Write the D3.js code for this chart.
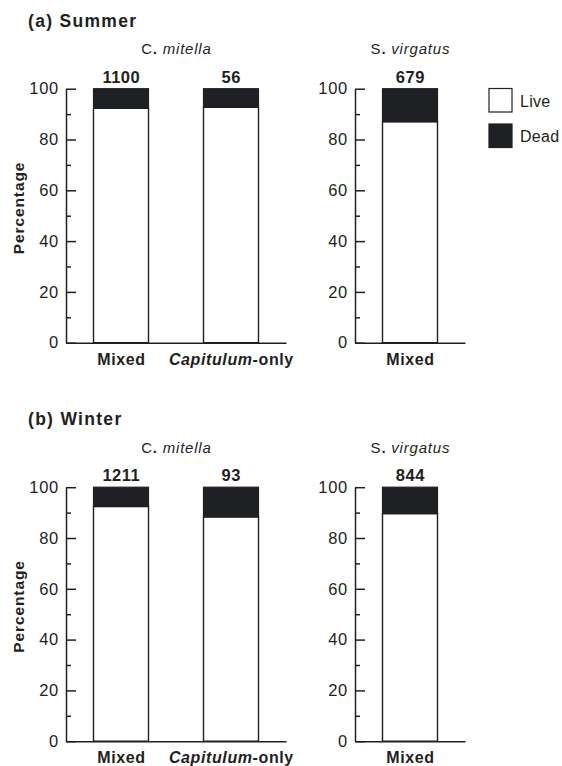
<!DOCTYPE html>
<html>
<head>
<meta charset="utf-8">
<script src="https://cdn.jsdelivr.net/npm/d3@7"></script>
<style>
  body { margin: 0; background: #fff; }
  svg { font-family: "Liberation Sans", Arial, Helvetica, sans-serif; }
</style>
</head>
<body>
<svg width="562" height="766"></svg>
<script>
// data
var groups = ["C. mitella", "C. mitella", "S. virgatus"];
var categories = ["Mixed", "Capitulum-only", "Mixed"];
var seasons = ["(a) Summer", "(b) Winter"];
var summerLive = [92.3, 92.7, 87.0];
var winterLive = [92.4, 88.3, 89.6];
var summerN = [1100, 56, 679];
var winterN = [1211, 93, 844];
var majorTicks = [0, 20, 40, 60, 80, 100];
var minorTicks = [10, 30, 50, 70, 90];
var legendItems = ["Live", "Dead"];

var ink = "#231f20", deadFill = "#1f2023";
var svg = d3.select("svg");

function speciesText(sel, name) {
  // genus initial upright, the dot heavy, the rest italic
  var parts = name.split(". ");
  sel.append("tspan").text(parts[0]);
  sel.append("tspan").attr("font-weight", "bold").text(".");
  sel.append("tspan").attr("font-style", "italic").text(" " + parts[1]);
}

function categoryText(sel, name) {
  if (name.indexOf("-") > 0) {
    var p = name.split("-");
    sel.append("tspan").attr("font-style", "italic").text(p[0]);
    sel.append("tspan").text("-" + p[1]);
  } else {
    sel.text(name);
  }
}

function drawPanel(title, live, counts, top, showLegend) {
  var g = svg.append("g").attr("transform", "translate(0," + top + ")");
  var y = d3.scaleLinear().domain([0, 100]).range([342.7, 88.7]);

  g.append("text").attr("x", 28).attr("y", 26.5)
    .attr("font-size", 17.5).attr("font-weight", "bold").attr("fill", ink)
    .attr("letter-spacing", 1.3)
    .text(title);

  g.append("text")
    .attr("transform", "translate(23.5,208) rotate(-90)")
    .attr("text-anchor", "middle").attr("font-size", 15.5).attr("font-weight", "bold")
    .attr("letter-spacing", 0.9).attr("fill", ink)
    .text("Percentage");

  var blocks = [
    { idx: [0, 1], range: [66, 286] },
    { idx: [2], range: [355, 465] }
  ];

  blocks.forEach(function (b) {
    var x = d3.scaleBand().domain(b.idx).range(b.range)
      .paddingInner(0.5).paddingOuter(0.25);

    // y axis, ticks pointing inward
    var ax = g.append("g").attr("transform", "translate(" + b.range[0] + ",0)");
    ax.call(d3.axisLeft(y).tickValues(majorTicks).tickSizeInner(-10).tickSizeOuter(0).tickPadding(7.3));
    ax.append("g").call(d3.axisLeft(y).tickValues(minorTicks).tickSizeInner(-5).tickSizeOuter(0).tickFormat(""))
      .select(".domain").remove();
    ax.selectAll("line, path").attr("stroke", ink).attr("stroke-width", 1.5);
    ax.selectAll("text").attr("font-size", 16.5).attr("fill", ink)
      .attr("letter-spacing", 0.6)
      .attr("font-family", "Liberation Sans, Arial, sans-serif");

    // bars
    var bars = g.selectAll(null).data(b.idx).enter();
    bars.append("rect")
      .attr("x", function (i) { return x(i); })
      .attr("width", x.bandwidth())
      .attr("y", function (i) { return y(live[i]); })
      .attr("height", function (i) { return y(0) - y(live[i]); })
      .attr("fill", "#fff").attr("stroke", ink).attr("stroke-width", 1.4);
    bars.append("rect")
      .attr("x", function (i) { return x(i); })
      .attr("width", x.bandwidth())
      .attr("y", y(100))
      .attr("height", function (i) { return y(live[i]) - y(100); })
      .attr("fill", deadFill).attr("stroke", deadFill).attr("stroke-width", 1.2);

    // baseline
    var bx = g.append("g").attr("transform", "translate(0," + y(0) + ")")
      .call(d3.axisBottom(x).tickSize(0).tickSizeOuter(0).tickFormat(""));
    bx.select(".domain").attr("stroke", ink).attr("stroke-width", 1.5);

    // counts above bars
    bars.append("text")
      .attr("x", function (i) { return x(i) + x.bandwidth() / 2 + 0.3; })
      .attr("y", 82.7).attr("text-anchor", "middle")
      .attr("font-size", 16.5).attr("font-weight", "bold").attr("fill", ink)
      .attr("letter-spacing", 0.5)
      .text(function (i) { return counts[i]; });

    // category labels
    b.idx.forEach(function (i) {
      g.append("text")
        .attr("x", x(i) + x.bandwidth() / 2 + 0.4).attr("y", 364.5)
        .attr("text-anchor", "middle").attr("font-size", 16)
        .attr("font-weight", "bold").attr("fill", ink).attr("letter-spacing", 0.6)
        .call(categoryText, categories[i]);
    });

    // species heading
    var cx = (x(b.idx[0]) + x(b.idx[b.idx.length - 1]) + x.bandwidth()) / 2;
    g.append("text").attr("x", cx + 0.4).attr("y", 54.3)
      .attr("text-anchor", "middle").attr("font-size", 15).attr("fill", ink)
      .attr("letter-spacing", 0.8)
      .call(speciesText, groups[b.idx[0]]);
  });

  if (showLegend) {
    var lg = g.selectAll(".leg").data(legendItems).enter().append("g")
      .attr("transform", function (d, i) { return "translate(489," + (88.5 + i * 35.5) + ")"; });
    lg.append("rect").attr("width", 23).attr("height", 23.5)
      .attr("fill", function (d, i) { return i === 0 ? "#fff" : deadFill; })
      .attr("stroke", function (d, i) { return i === 0 ? ink : deadFill; })
      .attr("stroke-width", 1.2);
    lg.append("text").attr("x", 31).attr("y", 18)
      .attr("font-size", 16).attr("fill", ink).attr("letter-spacing", 0.3)
      .text(function (d) { return d; });
  }
}

drawPanel(seasons[0], summerLive, summerN, 0, true);
drawPanel(seasons[1], winterLive, winterN, 398.5, false);
</script>
</body>
</html>
